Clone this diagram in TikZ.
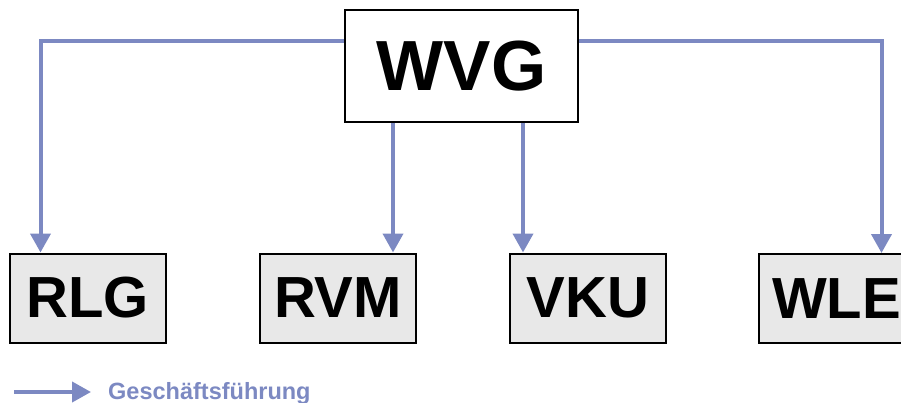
\documentclass[tikz,border=0pt]{standalone}
\usepackage{fontspec}
\setmainfont{Liberation Sans}
\usetikzlibrary{arrows.meta}
\definecolor{flowblue}{RGB}{124,137,194}
\definecolor{boxgray}{RGB}{232,232,232}
\tikzset{
  headbox/.style={draw=black, line width=2pt, fill=white, minimum width=233pt, minimum height=112pt,
    inner sep=0pt, font=\fontsize{71}{71}\selectfont\bfseries},
  unitbox/.style={draw=black, line width=2pt, fill=boxgray, minimum width=156pt, minimum height=89pt,
    inner sep=0pt, font=\fontsize{58}{58}\selectfont\bfseries},
  flow/.style={draw=flowblue, line width=4pt, -{Triangle[length=19pt,width=20pt]}},
  legendtext/.style={text=flowblue, font=\fontsize{23.5}{23.5}\selectfont\bfseries, inner sep=0pt}
}
\begin{document}
\begin{tikzpicture}[x=1pt,y=-1pt]
  \useasboundingbox (0,0) rectangle (901,403);
  \clip (0,0) rectangle (901,403);

  % organisation boxes
  \node[headbox] (wvg) at (461.5,66) {WVG};
  \node[unitbox] (rlg) at (87.5,298) {RLG};
  \node[unitbox] (rvm) at (338,298) {RVM};
  \node[unitbox] (vku) at (588,298) {VKU};
  \node[unitbox] (wle) at (836.5,298.5) {WLE};

  % columns of the vertical connectors
  \coordinate (colA) at (393,0);
  \coordinate (colB) at (523,0);

  % management lines
  \draw[flow] ([yshift=25pt]wvg.west) -| ([xshift=-47pt]rlg.north);
  \draw[flow] ([yshift=25pt]wvg.east) -| ([xshift=45pt]wle.north);
  \draw[flow] (wvg.south -| colA) -- (rvm.north -| colA);
  \draw[flow] (wvg.south -| colB) -- (vku.north -| colB);

  % legend
  \coordinate (legA) at (14,392);
  \coordinate (legB) at (91,392);
  \draw[flow] (legA) -- (legB);
  \node[legendtext, anchor=base west] (legtext) at (108,399) {Geschäftsführung};
\end{tikzpicture}
\end{document}
